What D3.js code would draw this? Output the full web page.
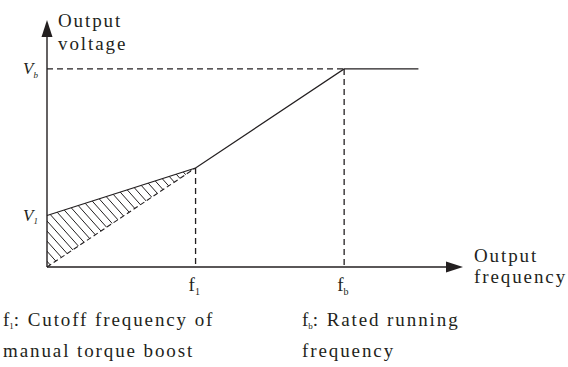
<!DOCTYPE html>
<html>
<head>
<meta charset="utf-8">
<script src="https://cdn.jsdelivr.net/npm/d3@7/dist/d3.min.js"></script>
<style>
  html, body { margin: 0; padding: 0; background: #fff; }
  svg { display: block; }
</style>
</head>
<body>
<svg id="chart" width="568" height="367"></svg>
<script>
// ---- data ----
const freqMarks = [
  { key: "f1", base: "f", sub: "1", value: 25 },
  { key: "fb", base: "f", sub: "b", value: 50 }
];
const voltMarks = [
  { key: "Vb", base: "V", sub: "b", value: 100 },
  { key: "V1", base: "V", sub: "1", value: 26 }
];
// V/f curve (frequency, voltage)
const curveFreq = [0, 25, 50, 62.5];
const curveVolt = [26, 50, 100, 100];
// linear V/f reference without boost (origin to f1)
const baseFreq = [0, 25];
const baseVolt = [0, 50];
const axisTitles = { x: ["Output", "frequency"], y: ["Output", "voltage"] };
const notes = [
  { base: "f", sub: "1", lines: [": Cutoff frequency of", "manual torque boost"] },
  { base: "f", sub: "b", lines: [": Rated running", "frequency"] }
];

// ---- layout ----
const ink = "#231f20";
const FONT = "Liberation Serif";
const svg = d3.select("#chart");
const x = d3.scaleLinear().domain([0, 70]).range([47, 463]);
const y = d3.scaleLinear().domain([0, 124.7]).range([267, 20]);

// axes
const xEnd = x(70), yEnd = y(124.7);
svg.append("line").attr("x1", x(0)).attr("y1", y(0)).attr("x2", xEnd - 14).attr("y2", y(0))
  .attr("stroke", ink).attr("stroke-width", 1.4);
svg.append("line").attr("x1", x(0)).attr("y1", y(0)).attr("x2", x(0)).attr("y2", yEnd + 14)
  .attr("stroke", ink).attr("stroke-width", 1.4);
svg.append("path")
  .attr("d", `M${xEnd},${y(0)} L${xEnd - 17},${y(0) - 5.5} L${xEnd - 17},${y(0) + 5.5} Z`)
  .attr("fill", ink);
svg.append("path")
  .attr("d", `M${x(0)},${yEnd} L${x(0) - 5.5},${yEnd + 17} L${x(0) + 5.5},${yEnd + 17} Z`)
  .attr("fill", ink);

// hatch region between boosted curve and base line up to f1
const f1 = freqMarks[0].value;
const pts = [
  [x(baseFreq[0]), y(baseVolt[0])],
  [x(curveFreq[0]), y(curveVolt[0])],
  [x(curveFreq[1]), y(curveVolt[1])]
];
svg.append("clipPath").attr("id", "hclip").append("path")
  .attr("d", "M" + pts.map(p => p.join(",")).join("L") + "Z");
const hg = svg.append("g").attr("clip-path", "url(#hclip)");
const spacing = 9;
for (let s = x(0) - 200; s < x(f1) + 10; s += spacing) {
  hg.append("line")
    .attr("x1", s).attr("y1", y(60))
    .attr("x2", s + 120 / 1.12).attr("y2", y(60) + 120)
    .attr("stroke", ink).attr("stroke-width", 1);
}

// dashed guides
const dash = "6,4";
const vb = voltMarks[0].value, fb = freqMarks[1].value;
svg.append("line").attr("x1", x(0)).attr("y1", y(vb)).attr("x2", x(fb)).attr("y2", y(vb))
  .attr("stroke", ink).attr("stroke-width", 1.3).attr("stroke-dasharray", dash);
svg.append("line").attr("x1", x(fb)).attr("y1", y(vb)).attr("x2", x(fb)).attr("y2", y(0))
  .attr("stroke", ink).attr("stroke-width", 1.3).attr("stroke-dasharray", dash);
svg.append("line").attr("x1", x(f1)).attr("y1", y(curveVolt[1])).attr("x2", x(f1)).attr("y2", y(0))
  .attr("stroke", ink).attr("stroke-width", 1.3).attr("stroke-dasharray", dash);

// base line (dashed)
const line = d3.line().x(d => x(d[0])).y(d => y(d[1]));
svg.append("path").datum(d3.zip(baseFreq, baseVolt)).attr("d", line)
  .attr("fill", "none").attr("stroke", ink).attr("stroke-width", 1.1).attr("stroke-dasharray", "5,3");

// V/f curve
svg.append("path").datum(d3.zip(curveFreq, curveVolt)).attr("d", line)
  .attr("fill", "none").attr("stroke", ink).attr("stroke-width", 1.2);

// labels
const fs = 19, ls = 1.9;
function txt(sel) {
  return sel.append("text").style("font-family", FONT).attr("fill", ink);
}
function subLabel(g, base, sub, italic, size, subSize) {
  const t = txt(g).attr("font-size", size).attr("font-style", italic ? "italic" : "normal");
  t.append("tspan").text(base);
  t.append("tspan").attr("font-size", subSize).attr("dy", size * 0.22).text(sub);
  return t;
}
// frequency tick labels
freqMarks.forEach(m => {
  const g = svg.append("g").attr("transform", `translate(${x(m.value) - 7},291)`);
  subLabel(g, m.base, m.sub, false, fs, 10);
});
// voltage tick labels
voltMarks.forEach(m => {
  const g = svg.append("g").attr("transform", `translate(23,${y(m.value) + 5})`);
  subLabel(g, m.base, m.sub, true, 17, 9);
});

// axis titles
axisTitles.y.forEach((t, i) => {
  txt(svg).attr("x", 58).attr("y", 27 + i * 23).attr("font-size", fs)
    .attr("letter-spacing", ls).text(t);
});
axisTitles.x.forEach((t, i) => {
  txt(svg).attr("x", 474).attr("y", 262 + i * 21).attr("font-size", fs)
    .attr("letter-spacing", ls).text(t);
});

// notes
const noteX = [3, 302];
notes.forEach((n, i) => {
  n.lines.forEach((l, j) => {
    const t = txt(svg).attr("x", noteX[i]).attr("y", 326 + j * 31)
      .attr("font-size", fs).attr("letter-spacing", ls);
    if (j === 0) {
      t.append("tspan").attr("letter-spacing", 0).text(n.base);
      t.append("tspan").attr("font-size", 9).attr("dy", 3).attr("letter-spacing", 0).text(n.sub);
      t.append("tspan").attr("dy", -3).text(l);
    } else {
      t.text(l);
    }
  });
});
</script>
</body>
</html>
